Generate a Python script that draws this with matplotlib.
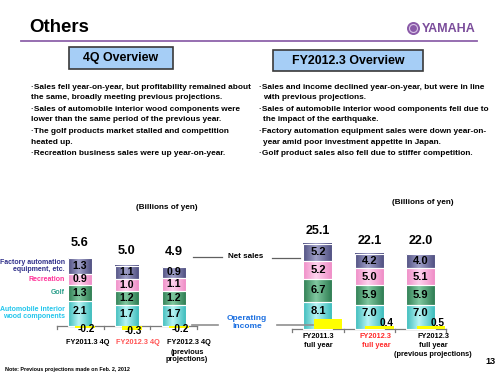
import numpy as np
import matplotlib
matplotlib.use("Agg")
import matplotlib.pyplot as plt
from matplotlib.lines import Line2D
from matplotlib.patches import Rectangle, Ellipse
from matplotlib.colors import LinearSegmentedColormap

plt.rcParams['font.family'] = ['Liberation Sans', 'DejaVu Sans']

W, H = 500, 375

# data ###############################################################
seg_names = ["Automobile interior\nwood components", "Golf", "Recreation",
             "Factory automation\nequipment, etc."]
seg_text_colors = ["#22c6ec", "#2a9e8a", "#ff3399", "#30308a"]

q_cats = ["FY2011.3 4Q", "FY2012.3 4Q", "FY2012.3 4Q"]
q_sub = ["", "", "(previous\nprojections)"]
q_auto = [2.1, 1.7, 1.7]
q_golf = [1.3, 1.2, 1.2]
q_rec = [0.9, 1.0, 1.1]
q_fa = [1.3, 1.1, 0.9]
q_total = [5.6, 5.0, 4.9]
q_income = [-0.2, -0.3, -0.2]

y_cats = ["FY2011.3", "FY2012.3", "FY2012.3"]
y_sub = ["full year", "full year", "full year\n(previous projections)"]
y_auto = [8.1, 7.0, 7.0]
y_golf = [6.7, 5.9, 5.9]
y_rec = [5.2, 5.0, 5.1]
y_fa = [5.2, 4.2, 4.0]
y_total = [25.1, 22.1, 22.0]
y_income = [1.5, 0.4, 0.5]

q_notes = [
    ["\u00b7Sales fell year-on-year, but profitability remained about",
     "the same, broadly meeting previous projections."],
    ["\u00b7Sales of automobile interior wood components were",
     "lower than the same period of the previous year."],
    ["\u00b7The golf products market stalled and competition",
     "heated up."],
    ["\u00b7Recreation business sales were up year-on-year."],
]
y_notes = [
    ["\u00b7Sales and income declined year-on-year, but were in line",
     "with previous projections."],
    ["\u00b7Sales of automobile interior wood components fell due to",
     "the impact of the earthquake."],
    ["\u00b7Factory automation equipment sales were down year-on-",
     "year amid poor investment appetite in Japan."],
    ["\u00b7Golf product sales also fell due to stiffer competition."],
]

# segment shading (dark edge, light centre)
seg_shades = [("#3cbcbc", "#b8f4f4"), ("#2e7d52", "#80c8a0"),
              ("#ef8cc6", "#ffd2ee"), ("#505082", "#a0a0c8")]

fig = plt.figure(figsize=(5, 3.75), dpi=100)


def fx(x):
    return x / W


def fy(y):
    return 1 - y / H


def text(x, y, s, **kw):
    return fig.text(fx(x), fy(y), s, **kw)


def hline(x0, x1, y, **kw):
    fig.add_artist(Line2D([fx(x0), fx(x1)], [fy(y), fy(y)], transform=fig.transFigure, **kw))


def box(x0, y0, x1, y1, **kw):
    fig.add_artist(Rectangle((fx(x0), fy(y1)), (x1 - x0) / W, (y1 - y0) / H,
                             transform=fig.transFigure, **kw))


# header #############################################################
text(29, 27, "Others", fontsize=13.4, fontweight='bold', va='center')
hline(21, 477, 41, color="#8d62aa", lw=1.3)
fig.add_artist(Ellipse((fx(413.5), fy(28.5)), 13 / W, 13 / H, transform=fig.transFigure,
                       facecolor="#8a5aa8", edgecolor="none"))
fig.add_artist(Ellipse((fx(413.5), fy(28.5)), 8 / W, 8 / H, transform=fig.transFigure,
                       facecolor="none", edgecolor="#d8c4e6", lw=0.8))
text(449, 29, "YAMAHA", fontsize=9, fontweight='bold', color="#7b4d9b", ha='center', va='center')

box(69, 47, 173, 69, facecolor="#a6cef6", edgecolor="#3a3a3a", lw=1.2)
text(121, 58, "4Q Overview", fontsize=8.9, fontweight='bold', ha='center', va='center')
box(273, 50, 423, 71, facecolor="#a6cef6", edgecolor="#3a3a3a", lw=1.2)
text(348, 60.5, "FY2012.3 Overview", fontsize=8.9, fontweight='bold', ha='center', va='center')


def notes(lines, x0, indent):
    y = 87.3
    for bullet in lines:
        for j, line in enumerate(bullet):
            text(x0 if j == 0 else x0 + indent, y, line, fontsize=5.95, fontweight='bold', va='center')
            y += 10.6
        y += 0.9


notes(q_notes, 31, 0)
notes(y_notes, 259, 4)

text(167, 207, "(Billions of yen)", fontsize=5.85, fontweight='bold', ha='center', va='center')
text(423, 203, "(Billions of yen)", fontsize=5.85, fontweight='bold', ha='center', va='center')


# charts #############################################################
def shade(ax, bars, dark, light):
    cmap = LinearSegmentedColormap.from_list("s", [(0, dark), (0.45, light), (1, dark)])
    grad = np.linspace(0, 1, 64).reshape(1, -1)
    for b in bars:
        x, y0 = b.get_x(), b.get_y()
        w, h = b.get_width(), b.get_height()
        ax.imshow(grad, cmap=cmap, extent=(x, x + w, y0, y0 + h), aspect='auto',
                  interpolation='bilinear', zorder=2)


def stack(ax, series, width, fs, lift, top_off, total_fs, totals):
    x = np.arange(len(totals))
    bottom = np.zeros(len(x))
    all_bars = []
    for k, vals in enumerate(series):
        bars = ax.bar(x, vals, width=width, bottom=bottom, facecolor='none',
                      edgecolor='white', lw=0.8, zorder=3)
        shade(ax, bars, *seg_shades[k])
        for i, v in enumerate(vals):
            ax.annotate(f"{v:.1f}", (x[i], bottom[i] + v / 2), xytext=(0, lift if k == 0 else 0),
                        textcoords='offset pixels', ha='center', va='center',
                        fontsize=fs, fontweight='bold', zorder=5)
        all_bars.append(bars)
        bottom = bottom + np.array(vals)
    for i, t in enumerate(totals):
        ax.annotate(f"{t:.1f}", (x[i], t), xytext=(0, top_off), textcoords='offset pixels',
                    ha='center', va='center', fontsize=total_fs, fontweight='bold')
    return x, all_bars


def baseline(ax, tick):
    ax.plot([-0.5, 2.5], [0, 0], color="#7a7a7a", lw=0.9, zorder=1, clip_on=False)
    for b in [-0.5, 0.5, 1.5, 2.5]:
        ax.plot([b, b], [0, -tick], color="#7a7a7a", lw=0.9, zorder=1, clip_on=False)


# 4Q chart
axq = fig.add_axes([56.5 / W, (H - 332.05) / H, 141 / W, 84.7 / H])
xq, q_bars = stack(axq, [q_auto, q_golf, q_rec, q_fa], 0.51, 7.6, 2, 15, 9.2, q_total)
baseline(axq, 0.22)
axq.bar(xq + 0.106, q_income, width=0.43, color="#ffff00", zorder=4)
for i, v in enumerate(q_income):
    axq.annotate(f"{v:.1f}", (xq[i] + 0.106, v), xytext=(1, -1), textcoords='offset pixels',
                 ha='center', va='center', fontsize=7.3, fontweight='bold', zorder=6)
# segment names beside the first bar
for k, bars in enumerate(q_bars):
    b = bars[0]
    axq.annotate(seg_names[k], (b.get_x(), b.get_y() + b.get_height() / 2), xytext=(-3, 0),
                 textcoords='offset pixels', ha='right', va='center', fontsize=5,
                 fontweight='bold', color=seg_text_colors[k], linespacing=0.95,
                 annotation_clip=False)
axq.set_xlim(-0.5, 2.5)
axq.set_ylim(-0.5, 6.5)
axq.axis('off')

# full-year chart
axy = fig.add_axes([292.3 / W, (H - 332.4) / H, 153.9 / W, 101.7 / H])
xy, y_bars = stack(axy, [y_auto, y_golf, y_rec, y_fa], 0.565, 8, 4, 13, 9, y_total)
baseline(axy, 0.9)
axy.set_xlim(-0.5, 2.5)
axy.set_ylim(-1, 29)
axy.axis('off')

axi = axy.twinx()
axi.bar(xy + 0.2, y_income, width=0.55, color="#ffff00", zorder=4)
for i, v in enumerate(y_income):
    big = v >= 1
    axi.annotate(f"{v:.1f}", (xy[i] + 0.2, v / 2 if big else v),
                 xytext=(1, 0) if big else (7, 3), textcoords='offset pixels',
                 ha='center', va='center', fontsize=7.3, fontweight='bold')
axi.set_xlim(-0.5, 2.5)
axi.set_ylim(-1 * 3.39 / 7, 29 * 3.39 / 7)
axi.axis('off')

# connectors and side labels
hline(193, 222, 257, color="#606060", lw=0.9)
hline(272, 300, 258, color="#606060", lw=0.9)
text(246, 257, "Net sales", fontsize=5.8, fontweight='bold', ha='center', va='center')
hline(192, 218, 325, color="#909090", lw=1.2)
hline(277, 313, 325, color="#909090", lw=1.2)
text(247, 322, "Operating\nincome", fontsize=6, fontweight='bold', color="#1a6ee0",
     ha='center', va='center', linespacing=1.2)

# category labels
for cx, lab, sub, col in zip([88, 138, 189], q_cats, q_sub, ["black", "#ff5555", "black"]):
    text(cx, 342, lab, fontsize=5.3, fontweight='bold', color=col, ha='center', va='center')
    if sub:
        text(cx - 2, 356, sub, fontsize=5.3, fontweight='bold', color=col, ha='center',
             va='center', linespacing=0.95)
for cx, lab, sub, col in zip([318, 376, 433], y_cats, y_sub, ["black", "#ff2a2a", "black"]):
    text(cx, 332.5, lab + "\n" + sub, fontsize=5.3, fontweight='bold', color=col,
         ha='center', va='top', linespacing=1.45)

text(5, 370, "Note: Previous projections made on Feb. 2, 2012", fontsize=3.9,
     fontweight='bold', va='center')
text(490, 362, "13", fontsize=6.5, fontweight='bold', ha='center', va='center')

fig.savefig("out.png", dpi=100)
